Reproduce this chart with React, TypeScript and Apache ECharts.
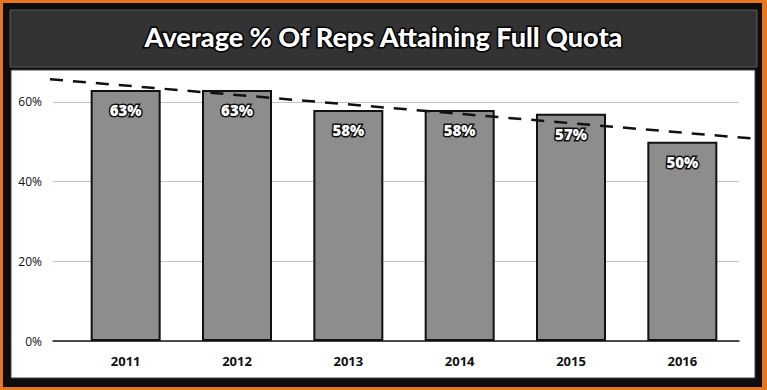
import React, { useEffect, useRef } from "react";
import * as echarts from "echarts";

const titleText = "Average % Of Reps Attaining Full Quota";
const years = ["2011", "2012", "2013", "2014", "2015", "2016"];
const attainment = [63, 63, 58, 58, 57, 50];
const yTicks = [0, 20, 40, 60];
const trendX = [-0.683, 5.63];
const trendY = [65.7, 50.8];

export default function App() {
  const ref = useRef<HTMLDivElement>(null);
  useEffect(() => {
    document.body.style.margin = "0";
    if (!ref.current) return;
    const chart = echarts.init(ref.current, undefined, { renderer: "svg" });
    const font = "'Open Sans', 'Noto Sans', sans-serif";
    chart.setOption({
      animation: false,
      backgroundColor: "#e8761f",
      title: {
        text: titleText,
        left: "center",
        top: 18,
        textStyle: {
          color: "#ffffff",
          fontFamily: "Lato, 'Open Sans', sans-serif",
          fontWeight: 900,
          fontSize: 27,
          textBorderColor: "#000000",
          textBorderWidth: 3,
        },
      },
      graphic: [
        { type: "rect", z: -10, shape: { x: 3, y: 3, width: 759, height: 384 }, style: { fill: "#0d0d0d" } },
        { type: "rect", z: -9, shape: { x: 10, y: 10, width: 747, height: 57 }, style: { fill: "#333333", stroke: "#5a5a5a", lineWidth: 1 } },
        { type: "rect", z: -9, shape: { x: 11, y: 70, width: 744, height: 308 }, style: { fill: "#ffffff", stroke: "#444", lineWidth: 1 } },
      ],
      grid: [
        { left: 53, right: 28, top: 78, bottom: 49 },
        { left: 70, right: 29, top: 78, bottom: 49 },
        { left: 50, right: 14, top: 78, bottom: 49 },
      ],
      xAxis: [
        {
          type: "value",
          gridIndex: 0,
          min: 0,
          max: 1,
          axisLine: { show: true, onZero: false, lineStyle: { color: "#1a1a1a", width: 1.5 } },
          axisTick: { show: false },
          axisLabel: { show: false },
          splitLine: { show: false },
        },
        {
          type: "category",
          gridIndex: 1,
          data: years,
          axisLine: { show: false },
          axisTick: { show: false },
          axisLabel: { color: "#111", fontFamily: font, fontWeight: 700, fontSize: 13, margin: 13 },
        },
        {
          type: "value",
          gridIndex: 2,
          min: trendX[0],
          max: trendX[1],
          show: false,
        },
      ],
      yAxis: [
        {
          type: "value",
          gridIndex: 0,
          min: 0,
          max: 66,
          interval: 20,
          axisLine: { show: false },
          axisTick: { show: false },
          axisLabel: {
            color: "#111",
            fontFamily: font,
            fontSize: 12,
            margin: 11,
            formatter: (v: number) => (yTicks.indexOf(v) >= 0 ? v + "%" : ""),
          },
          splitLine: {
            show: true,
            lineStyle: { color: ["#c4c4c4", "#c4c4c4", "#c4c4c4", "#c4c4c4", "rgba(0,0,0,0)"], width: 1 },
          },
        },
        {
          type: "value",
          gridIndex: 1,
          min: 0,
          max: 66,
          show: false,
          splitLine: { show: false },
        },
        {
          type: "value",
          gridIndex: 2,
          min: 0,
          max: 66,
          show: false,
          splitLine: { show: false },
        },
      ],
      series: [
        {
          type: "bar",
          xAxisIndex: 1,
          yAxisIndex: 1,
          data: attainment,
          barWidth: 70,
          itemStyle: { color: "#8d8d8d", borderColor: "#111111", borderWidth: 2 },
          label: {
            show: true,
            position: "insideTop",
            distance: 13,
            formatter: "{c}%",
            color: "#ffffff",
            fontFamily: font,
            fontWeight: 800,
            fontSize: 15,
            textBorderColor: "#111111",
            textBorderWidth: 3,
          },
        },
        {
          type: "line",
          xAxisIndex: 2,
          yAxisIndex: 2,
          data: trendX.map((x, i) => [x, trendY[i]]),
          symbol: "none",
          clip: false,
          z: 5,
          lineStyle: { color: "#111111", width: 2.5, type: [13, 10] },
        },
      ],
    });
    return () => chart.dispose();
  }, []);
  return <div ref={ref} style={{ width: 767, height: 390 }} />;
}
